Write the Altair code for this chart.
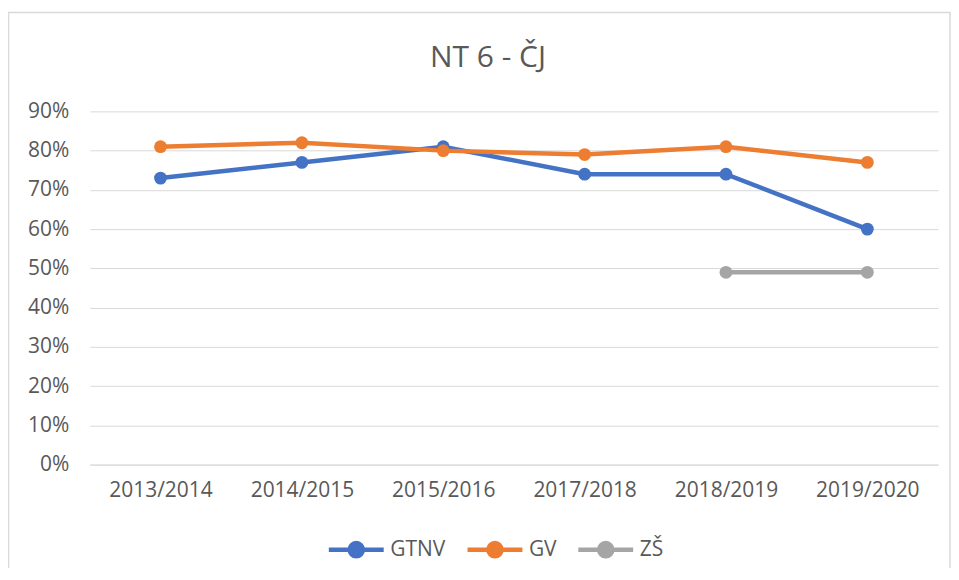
import altair as alt
import pandas as pd

title_text = "NT 6 - ČJ"
years = ["2013/2014", "2014/2015", "2015/2016", "2017/2018", "2018/2019", "2019/2020"]
series_names = ["GTNV", "GV", "ZŠ"]
gtnv = [0.73, 0.77, 0.81, 0.74, 0.74, 0.60]
gv = [0.81, 0.82, 0.80, 0.79, 0.81, 0.77]
zs = [None, None, None, None, 0.49, 0.49]
colors = ["#4472C4", "#ED7D31", "#A5A5A5"]

rows = []
for name, vals in zip(series_names, [gtnv, gv, zs]):
    for y, v in zip(years, vals):
        if v is not None:
            rows.append({"Rok": y, "Séria": name, "Hodnota": v})
df = pd.DataFrame(rows)

FONT = "Open Sans"
TXT = "#595959"
FS = 21

x_enc = alt.X("Rok:N", sort=years,
              scale=alt.Scale(type="point", padding=0.5),
              axis=alt.Axis(title=None, labelAngle=0, labelFontSize=FS, labelColor=TXT,
                            labelFont=FONT, labelPadding=15, ticks=False,
                            domainColor="#d9d9d9", domainWidth=1, grid=False))
y_enc = alt.Y("Hodnota:Q",
              scale=alt.Scale(domain=[0, 0.9], nice=False),
              axis=alt.Axis(title=None, format=".0%", values=[i / 10 for i in range(10)],
                            labelFontSize=FS, labelColor=TXT, labelFont=FONT, labelPadding=21,
                            ticks=False, domain=False, gridColor="#d9d9d9", gridWidth=1))
legend = alt.Legend(title=None, orient="none", direction="horizontal",
                    legendX=237, legendY=409,
                    symbolType="M-1,0L1,0M-0.24,0A0.24,0.24 0 1,1 0.24,0A0.24,0.24 0 1,1 -0.24,0Z",
                    symbolSize=3025, symbolStrokeWidth=4.5,
                    labelFontSize=FS, labelColor=TXT, labelFont=FONT,
                    labelOffset=4, columnPadding=12)
cscale = alt.Scale(domain=series_names, range=colors)
color_enc = alt.Color("Séria:N", sort=series_names, scale=cscale, legend=legend)
stroke_enc = alt.Stroke("Séria:N", sort=series_names, scale=cscale, legend=legend)

frame = alt.Chart(pd.DataFrame({"a": [0]})).mark_rect(fill=None, stroke="#d9d9d9", strokeWidth=1.5).encode(
    x=alt.value(-81.5), x2=alt.value(862), y=alt.value(-99), y2=alt.value(470)
)

title = alt.Chart(pd.DataFrame({"t": [title_text]})).mark_text(
    font=FONT, fontSize=30, color=TXT, align="center", baseline="alphabetic"
).encode(text="t:N", x=alt.value(399), y=alt.value(-44))

base = alt.Chart(df)
lines = base.mark_line(strokeWidth=4.5).encode(x=x_enc, y=y_enc, color=color_enc,
                                                 order=alt.Order("Rok:N"))
points = base.mark_point(filled=True, size=165, opacity=1, strokeWidth=0).encode(
    x=x_enc, y=y_enc, color=color_enc, stroke=stroke_enc)

chart = alt.layer(frame, title, lines, points).properties(
    width=850, height=354,
    autosize=alt.AutoSizeParams(type="none"),
    padding={"left": 82, "top": 103, "right": 13, "bottom": 103},
).configure_view(stroke=None)

chart.save("out.html", embed_options={"renderer": "svg", "actions": False})
